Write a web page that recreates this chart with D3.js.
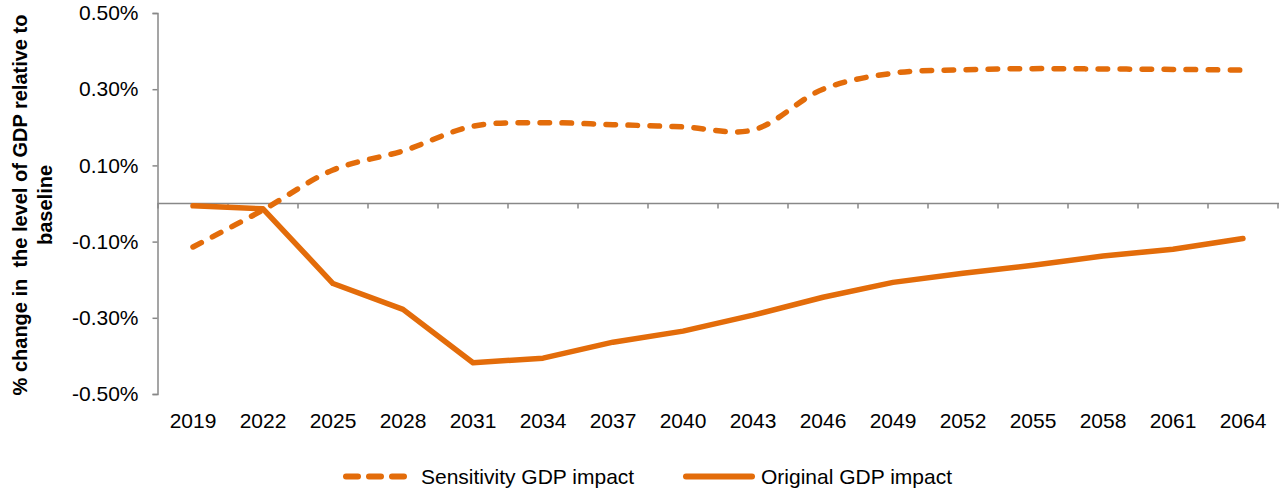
<!DOCTYPE html>
<html><head><meta charset="utf-8">
<script src="https://cdn.jsdelivr.net/npm/d3@7"></script>
<style>
html,body{margin:0;padding:0;background:#fff;}
svg{display:block;font-family:"Liberation Sans",Arial,sans-serif;}
</style></head>
<body>
<svg id="chart" width="1281" height="491"></svg>
<script>
const years = ["2019","2022","2025","2028","2031","2034","2037","2040","2043","2046","2049","2052","2055","2058","2061","2064"];
const sensitivity = [-0.114,-0.017,0.088,0.138,0.203,0.212,0.207,0.201,0.193,0.300,0.342,0.351,0.354,0.353,0.352,0.350];
const original = [-0.006,-0.014,-0.210,-0.278,-0.418,-0.406,-0.364,-0.335,-0.293,-0.246,-0.207,-0.183,-0.162,-0.138,-0.120,-0.092];
const yTicks = [-0.5,-0.3,-0.1,0.1,0.3,0.5];
const seriesNames = ["Sensitivity GDP impact","Original GDP impact"];

const color = "#E36C0A";
const axisColor = "#888888";
const fs = 21;
const svg = d3.select("#chart");

const x = d3.scaleBand().domain(years).range([158, 1278]);
const y = d3.scaleLinear().domain([-0.5, 0.5]).range([394, 13]);

const fmt = d3.formatLocale({decimal:".", thousands:",", grouping:[3], currency:["",""], minus:"-"}).format(".2f");

// Y axis
const yAxis = d3.axisLeft(y).tickValues(yTicks).tickSize(5).tickPadding(14)
  .tickFormat(d => fmt(d) + "%");
const gy = svg.append("g").attr("transform","translate(157.5,0)").call(yAxis);
gy.select(".domain").attr("stroke", axisColor).attr("stroke-width",1.5);
gy.selectAll(".tick line").attr("stroke", axisColor).attr("stroke-width",1.5);
gy.selectAll(".tick text").attr("font-size",fs).attr("fill","#000")
  .attr("font-family","'Liberation Sans',Arial,sans-serif");

// X axis along zero
const zeroY = y(0);
const gx = svg.append("g");
gx.append("line").attr("x1",157.5).attr("x2",1279).attr("y1",zeroY).attr("y2",zeroY)
  .attr("stroke",axisColor).attr("stroke-width",1.5);
const bounds = years.map(d => x(d)).concat([x.range()[1]]);
gx.selectAll("line.tk").data(bounds).enter().append("line").attr("class","tk")
  .attr("x1",d=>d).attr("x2",d=>d).attr("y1",zeroY).attr("y2",zeroY+5)
  .attr("stroke",axisColor).attr("stroke-width",1.5);
svg.append("g").selectAll("text").data(years).enter().append("text")
  .attr("x", d => x(d) + x.bandwidth()/2).attr("y", 428)
  .attr("text-anchor","middle").attr("font-size",fs).attr("fill","#000")
  .text(d => d);

// Y title
const yt = svg.append("text").attr("transform","translate(0,205) rotate(-90)")
  .attr("text-anchor","middle").attr("font-size",20).attr("font-weight","bold").attr("fill","#000");
yt.append("tspan").attr("x",0).attr("y",27).attr("xml:space","preserve").text("% change in  the level of GDP relative to");
yt.append("tspan").attr("x",0).attr("y",52).text("baseline");

// Lines
const cx = (d,i) => x(years[i]) + x.bandwidth()/2;
const lineStraight = d3.line().x(cx).y(d => y(d));
const lineSmooth = d3.line().x(cx).y(d => y(d)).curve(d3.curveCatmullRom.alpha(0.5));

svg.append("path").datum(original).attr("d",lineStraight)
  .attr("fill","none").attr("stroke",color).attr("stroke-width",5.5)
  .attr("stroke-linecap","round").attr("stroke-linejoin","round");
svg.append("path").datum(sensitivity).attr("d",lineSmooth)
  .attr("fill","none").attr("stroke",color).attr("stroke-width",5.5)
  .attr("stroke-dasharray","9.5,12.5").attr("stroke-linecap","round").attr("stroke-linejoin","round");

// Legend
const lg = svg.append("g");
lg.append("line").attr("x1",346).attr("x2",404).attr("y1",476.5).attr("y2",476.5)
  .attr("stroke",color).attr("stroke-width",6).attr("stroke-linecap","round").attr("stroke-dasharray","12,11");
lg.append("text").attr("x",421).attr("y",484).attr("font-size",fs).attr("fill","#000").text(seriesNames[0]);
lg.append("line").attr("x1",686).attr("x2",752).attr("y1",476.5).attr("y2",476.5)
  .attr("stroke",color).attr("stroke-width",6).attr("stroke-linecap","round");
lg.append("text").attr("x",761).attr("y",484).attr("font-size",fs).attr("fill","#000").text(seriesNames[1]);
</script>
</body></html>
